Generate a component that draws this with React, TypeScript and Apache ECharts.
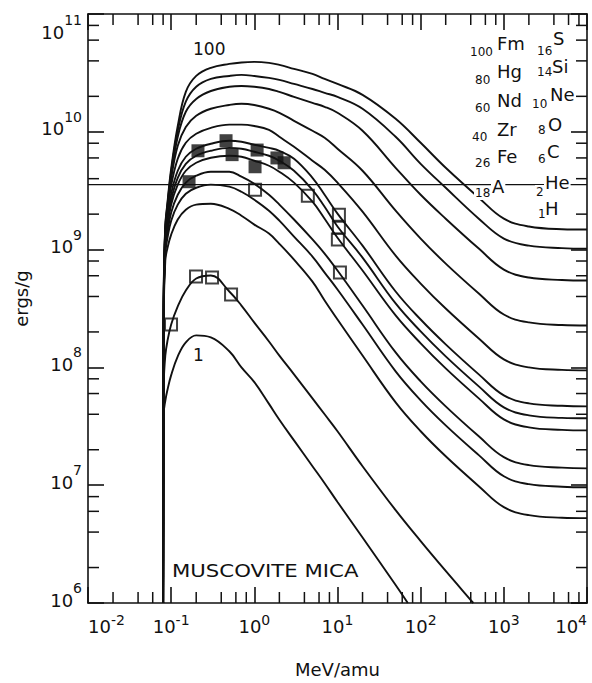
import React, { useEffect, useRef } from 'react';
import * as echarts from 'echarts';

const FONT = 'DejaVu Sans';
const INK = '#111';

// Axis ranges
const X_MIN = 0.01;
const X_MAX = 10000;
const Y_MIN = 1e6;
const Y_MAX = 1e11;
const X_DECADES = [-2, -1, 0, 1, 2, 3];
const Y_DECADES = [6, 7, 8, 9, 10];
const MINOR_MULTIPLIERS = [2, 4, 6, 8];

// Energy grid (MeV/amu) for the heavy-ion curves
const energies = [0.08, 0.0815, 0.085, 0.09, 0.1, 0.12, 0.15, 0.2, 0.3, 0.5, 0.7, 1, 1.5, 2, 3, 5, 7, 10, 20, 50, 100, 200, 500, 1000, 2000, 5000, 10000];

// ergs/g for each ion
const fm = [1e6, 4.67e8, 1.6e9, 2.45e9, 4.86e9, 1.12e10, 2.18e10, 2.98e10, 3.49e10, 3.77e10, 3.88e10, 3.92e10, 3.85e10, 3.7e10, 3.42e10, 3.1e10, 2.81e10, 2.55e10, 2.06e10, 1.29e10, 8.07e9, 4.95e9, 2.76e9, 1.83e9, 1.57e9, 1.49e9, 1.48e9];
const hg = [1e6, 4.49e8, 1.54e9, 2.36e9, 4.58e9, 1.02e10, 1.8e10, 2.41e10, 2.81e10, 2.98e10, 3.04e10, 2.98e10, 2.87e10, 2.76e10, 2.55e10, 2.31e10, 2.14e10, 1.98e10, 1.57e10, 9.07e9, 5.35e9, 3.35e9, 1.83e9, 1.24e9, 1.08e9, 1.03e9, 1.02e9];
const nd = [1e6, 4.32e8, 1.48e9, 2.27e9, 4.32e9, 9.07e9, 1.48e10, 1.9e10, 2.22e10, 2.41e10, 2.45e10, 2.41e10, 2.31e10, 2.18e10, 1.98e10, 1.76e10, 1.63e10, 1.45e10, 1.02e10, 4.95e9, 2.92e9, 1.83e9, 1.02e9, 6.77e8, 5.79e8, 5.52e8, 5.46e8];
const zr = [1e6, 4.16e8, 1.42e9, 2.14e9, 4.0e9, 7.61e9, 1.1e10, 1.37e10, 1.57e10, 1.69e10, 1.73e10, 1.69e10, 1.57e10, 1.45e10, 1.24e10, 1.02e10, 8.89e9, 7.18e9, 4.67e9, 2.14e9, 1.24e9, 7.61e8, 4.24e8, 2.81e8, 2.41e8, 2.29e8, 2.27e8];
const fe = [1e6, 4.0e8, 1.34e9, 1.98e9, 3.49e9, 5.9e9, 8.07e9, 9.62e9, 1.08e10, 1.15e10, 1.15e10, 1.12e10, 1.04e10, 9.07e9, 7.46e9, 5.68e9, 4.76e9, 3.7e9, 2.1e9, 8.89e8, 5.15e8, 3.16e8, 1.76e8, 1.17e8, 1.0e8, 9.52e7, 9.43e7];
const ar = [1e6, 3.84e8, 1.24e9, 1.8e9, 2.98e9, 4.67e9, 6.14e9, 7.18e9, 7.91e9, 8.39e9, 8.23e9, 7.76e9, 7.31e9, 6.9e9, 5.9e9, 4.07e9, 2.92e9, 2.02e9, 1.08e9, 4.41e8, 2.55e8, 1.57e8, 8.73e7, 5.79e7, 4.95e7, 4.72e7, 4.67e7];
const su = [1e6, 3.7e8, 1.17e9, 1.66e9, 2.65e9, 4.07e9, 5.35e9, 6.26e9, 6.9e9, 7.31e9, 7.18e9, 6.77e9, 6.26e9, 5.68e9, 4.67e9, 3.22e9, 2.31e9, 1.57e9, 8.55e8, 3.49e8, 2.02e8, 1.24e8, 6.9e7, 4.58e7, 3.92e7, 3.73e7, 3.7e7];
const si = [1e6, 3.56e8, 1.1e9, 1.54e9, 2.41e9, 3.56e9, 4.67e9, 5.46e9, 6.02e9, 6.26e9, 6.14e9, 5.68e9, 5.15e9, 4.58e9, 3.7e9, 2.55e9, 1.83e9, 1.26e9, 6.64e8, 2.76e8, 1.6e8, 9.81e7, 5.46e7, 3.62e7, 3.1e7, 2.95e7, 2.92e7];
const ne = [1e6, 3.42e8, 1.02e9, 1.37e9, 2.06e9, 2.92e9, 3.7e9, 4.24e9, 4.58e9, 4.58e9, 4.16e9, 3.62e9, 2.92e9, 2.41e9, 1.8e9, 1.22e9, 9.25e8, 6.64e8, 3.35e8, 1.34e8, 7.61e7, 4.67e7, 2.6e7, 1.73e7, 1.48e7, 1.41e7, 1.39e7];
const ox = [1e6, 3.29e8, 9.25e8, 1.24e9, 1.76e9, 2.41e9, 2.98e9, 3.35e9, 3.56e9, 3.42e9, 3.1e9, 2.65e9, 2.14e9, 1.76e9, 1.29e9, 8.73e8, 6.38e8, 4.58e8, 2.31e8, 9.25e7, 5.25e7, 3.22e7, 1.8e7, 1.19e7, 1.02e7, 9.71e6, 9.61e6];
const ca = [1e6, 3.04e8, 8.07e8, 1.02e9, 1.34e9, 1.8e9, 2.18e9, 2.41e9, 2.45e9, 2.22e9, 1.94e9, 1.63e9, 1.37e9, 1.12e9, 8.22e8, 5.35e8, 3.7e8, 2.55e8, 1.26e8, 5.05e7, 2.87e7, 1.76e7, 9.81e6, 6.51e6, 5.57e6, 5.3e6, 5.25e6];

// Helium and hydrogen leave the frame at the bottom
const heEnergies = [0.08, 0.0815, 0.085, 0.09, 0.1, 0.12, 0.15, 0.2, 0.3, 0.5, 0.7, 1, 1.5, 2, 3, 5, 7, 10, 20, 50, 100, 200, 400, 430];
const he = [1e6, 7.3e7, 1.26e8, 1.66e8, 2.31e8, 3.29e8, 4.49e8, 5.68e8, 6.03e8, 4.41e8, 3.35e8, 2.4e8, 1.66e8, 1.26e8, 8.73e7, 5.46e7, 4.0e7, 2.87e7, 1.45e7, 6.14e6, 3.35e6, 1.87e6, 1.06e6, 1e6];
const hEnergies = [0.08, 0.0815, 0.085, 0.09, 0.1, 0.12, 0.15, 0.2, 0.3, 0.5, 0.7, 1, 1.5, 2, 3, 5, 7, 10, 20, 50, 70];
const hy = [1e6, 4.1e7, 5.2e7, 6.4e7, 8.6e7, 1.24e8, 1.63e8, 1.87e8, 1.8e8, 1.37e8, 1.0e8, 7.5e7, 4.9e7, 3.6e7, 2.4e7, 1.45e7, 1.04e7, 7.2e6, 3.6e6, 1.42e6, 1.0e6];

// Measured points
const filledE = [0.21, 0.457, 0.54, 1.08, 1.02, 1.87, 2.28, 0.164];
const filledD = [6.9e9, 8.4e9, 6.4e9, 7.0e9, 5.05e9, 6.0e9, 5.46e9, 3.77e9];
const openE = [1.02, 4.4, 10.4, 10.4, 10.1, 10.7, 0.199, 0.31, 0.525, 0.0996];
const openD = [3.22e9, 2.87e9, 1.98e9, 1.53e9, 1.22e9, 6.38e8, 5.9e8, 5.8e8, 4.16e8, 2.31e8];

// Registration threshold line
const thresholdDose = 3.56e9;

const curveNames = ['Fm', 'Hg', 'Nd', 'Zr', 'Fe', 'A', 'S', 'Si', 'Ne', 'O', 'C'];
const curveValues = [fm, hg, nd, zr, fe, ar, su, si, ne, ox, ca];

const xMinor = X_DECADES.flatMap((d) => MINOR_MULTIPLIERS.map((m) => m * Math.pow(10, d)));
const yMinor = Y_DECADES.flatMap((d) => MINOR_MULTIPLIERS.map((m) => m * Math.pow(10, d)));

const MAJOR_TICK = 16;
const MINOR_TICK = 11;

function lineSeries(name: string, xs: number[], ys: number[]) {
  return {
    name,
    type: 'line',
    data: xs.map((x, i) => [x, ys[i]]),
    showSymbol: false,
    symbol: 'none',
    smooth: 0.4,
    clip: true,
    silent: true,
    lineStyle: { color: INK, width: 1.9 },
    z: 3,
  };
}

function txt(text: string, x: number, y: number, size: number, extra: any = {}) {
  return {
    type: 'text',
    x,
    y,
    z: 100,
    silent: true,
    style: {
      text,
      fill: INK,
      fontFamily: FONT,
      fontSize: size,
      align: 'left',
      verticalAlign: 'middle',
      textAlign: 'left',
      textVerticalAlign: 'middle',
      ...extra,
    },
  };
}

const white = { backgroundColor: '#fff', padding: [1, 1] };

export default function App() {
  const ref = useRef<HTMLDivElement>(null);
  useEffect(() => {
    const chart = echarts.init(ref.current!, null, { renderer: 'svg' });
    const axisCommon = {
      type: 'log',
      logBase: 10,
      axisLine: { show: true, lineStyle: { color: INK, width: 1.6 } },
      axisTick: { show: true, inside: true, length: MAJOR_TICK, lineStyle: { color: INK, width: 1.6 } },
      splitLine: { show: false },
      minorTick: { show: false },
    };
    const option: any = {
      animation: false,
      backgroundColor: '#fff',
      grid: { left: 88, right: 5, top: 14, bottom: 78, containLabel: false },
      xAxis: [
        {
          ...axisCommon,
          min: X_MIN,
          max: X_MAX,
          position: 'bottom',
          name: 'MeV/amu',
          nameLocation: 'middle',
          nameGap: 57,
          nameTextStyle: { fontFamily: FONT, fontSize: 18, color: INK },
          axisLabel: {
            margin: 10,
            alignMinLabel: 'left',
            alignMaxLabel: 'right',
            formatter: (v: number) => `{b|10}{s|${Math.round(Math.log10(v))}}`,
            rich: {
              b: { fontFamily: FONT, fontSize: 18, lineHeight: 18, color: INK, verticalAlign: 'top', padding: [4, 0, 0, 0] },
              s: { fontFamily: FONT, fontSize: 14, lineHeight: 14, color: INK, verticalAlign: 'top' },
            },
          },
        },
        {
          ...axisCommon,
          min: X_MIN,
          max: X_MAX,
          position: 'top',
          axisLabel: { show: false },
        },
      ],
      yAxis: [
        {
          ...axisCommon,
          min: Y_MIN,
          max: Y_MAX,
          position: 'left',
          name: 'ergs/g',
          nameLocation: 'middle',
          nameGap: 46,
          nameTextStyle: { fontFamily: FONT, fontSize: 18, color: INK, padding: [0, 0, 0, 20] },
          axisLabel: {
            margin: 6,
            formatter: (v: number) => {
              const e = Math.round(Math.log10(v));
              return e === 11 ? `{b2|10}{s2|${e}}` : `{b|10}{s|${e}}`;
            },
            rich: {
              b: { fontFamily: FONT, fontSize: 18, lineHeight: 18, color: INK, verticalAlign: 'bottom', padding: [0, 0, 16, 0] },
              s: { fontFamily: FONT, fontSize: 14, lineHeight: 44, color: INK, verticalAlign: 'top' },
              b2: { fontFamily: FONT, fontSize: 18, lineHeight: 18, color: INK, verticalAlign: 'top', padding: [18, 0, 0, 0] },
              s2: { fontFamily: FONT, fontSize: 14, lineHeight: 14, color: INK, verticalAlign: 'top', padding: [8, 0, 0, 0] },
            },
          },
        },
        {
          ...axisCommon,
          min: Y_MIN,
          max: Y_MAX,
          position: 'right',
          axisLabel: { show: false },
        },
      ],
      series: [
        ...curveNames.map((n, i) => lineSeries(n, energies, curveValues[i])),
        lineSeries('He', heEnergies, he),
        lineSeries('H', hEnergies, hy),
        {
          name: 'threshold',
          type: 'line',
          data: [[X_MIN, thresholdDose], [X_MAX, thresholdDose]],
          showSymbol: false,
          symbol: 'none',
          silent: true,
          lineStyle: { color: INK, width: 1.4 },
          z: 2,
        },
        {
          name: 'filled',
          type: 'scatter',
          data: filledE.map((e, i) => [e, filledD[i]]),
          symbol: 'rect',
          symbolSize: 13,
          itemStyle: { color: INK },
          silent: true,
          z: 6,
        },
        {
          name: 'open',
          type: 'scatter',
          data: openE.map((e, i) => [e, openD[i]]),
          symbol: 'rect',
          symbolSize: 12,
          itemStyle: { color: 'rgba(255,255,255,0)', borderColor: INK, borderWidth: 2 },
          silent: true,
          z: 6,
        },
        {
          name: 'xMinorTicks',
          type: 'custom',
          silent: true,
          clip: false,
          data: xMinor.map((v) => [v, Y_MIN]),
          renderItem: (_p: any, api: any) => {
            const v = api.value(0);
            const b = api.coord([v, Y_MIN]);
            const t = api.coord([v, Y_MAX]);
            const st = { stroke: INK, lineWidth: 1.5 };
            return {
              type: 'group',
              children: [
                { type: 'line', shape: { x1: b[0], y1: b[1], x2: b[0], y2: b[1] - MINOR_TICK }, style: st },
                { type: 'line', shape: { x1: t[0], y1: t[1], x2: t[0], y2: t[1] + MINOR_TICK }, style: st },
              ],
            };
          },
          z: 4,
        },
        {
          name: 'yMinorTicks',
          type: 'custom',
          silent: true,
          clip: false,
          data: yMinor.map((v) => [X_MIN, v]),
          renderItem: (_p: any, api: any) => {
            const v = api.value(1);
            const l = api.coord([X_MIN, v]);
            const r = api.coord([X_MAX, v]);
            const st = { stroke: INK, lineWidth: 1.5 };
            return {
              type: 'group',
              children: [
                { type: 'line', shape: { x1: l[0], y1: l[1], x2: l[0] + MINOR_TICK, y2: l[1] }, style: st },
                { type: 'line', shape: { x1: r[0], y1: r[1], x2: r[0] - MINOR_TICK, y2: r[1] }, style: st },
              ],
            };
          },
          z: 4,
        },
      ],
      graphic: [
        txt('100', 193, 49, 17),
        txt('1', 193, 355, 17),
        { ...txt('MUSCOVITE MICA', 172, 571, 17), scaleX: 1.25, originX: 0, originY: 0 },
        // left column: heavy ions
        txt('100', 470, 52, 12),
        txt('Fm', 497, 43, 18),
        txt('80', 475, 80, 12),
        txt('Hg', 497, 71, 18),
        txt('60', 475, 108, 12),
        txt('Nd', 497, 100, 18),
        txt('40', 472, 137, 12),
        txt('Zr', 497, 129, 18),
        txt('26', 475, 163, 12),
        txt('Fe', 497, 156, 18),
        txt('18', 474, 193, 12, white),
        txt('A', 491, 186, 18, white),
        // right column: light ions
        txt('16', 537, 51, 12),
        txt('S', 553, 38, 18),
        txt('14', 537, 72, 12),
        txt('Si', 552, 66, 18),
        txt('10', 532, 104, 12),
        txt('Ne', 550, 94, 18),
        txt('8', 538, 130, 12),
        txt('O', 548, 124, 18),
        txt('6', 538, 159, 12),
        txt('C', 547, 151, 18),
        txt('2', 535, 192, 12, white),
        txt('He', 544, 182, 18, white),
        txt('1', 538, 214, 12),
        txt('H', 545, 208, 18),
      ],
    };
    chart.setOption(option);
    return () => chart.dispose();
  }, []);
  return <div ref={ref} style={{ position: 'fixed', left: 0, top: 0, width: 592, height: 683, background: '#fff' }} />;
}
